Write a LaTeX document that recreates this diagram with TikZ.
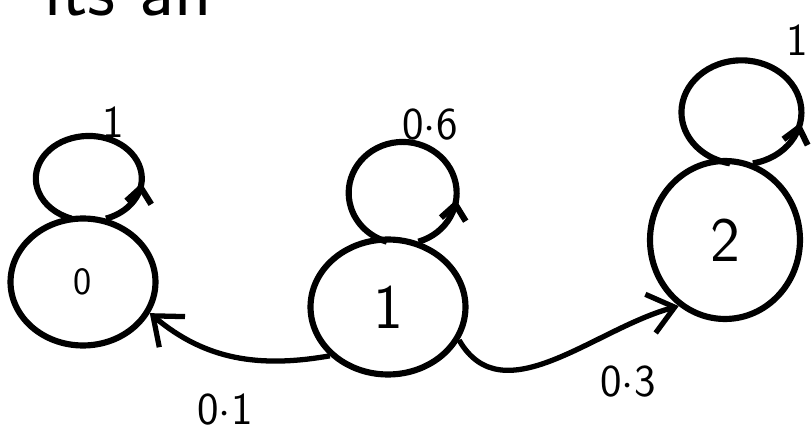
\documentclass[tikz,border=0pt]{standalone}
\usepackage{tikz}
\usetikzlibrary{arrows.meta,shapes.geometric,decorations.markings}
\definecolor{chainInk}{HTML}{000000}
\tikzset{
  every picture/.style={font=\sffamily, text=chainInk},
  chain state/.style={ellipse, draw=chainInk, line width=3.5pt, inner sep=0pt},
  chain name/.style={font=\sffamily\fontsize{36}{40}\selectfont},
  chain prob/.style={font=\sffamily\fontsize{26}{30}\selectfont},
  chain edge/.style={draw=chainInk, line width=3pt,
    -{Straight Barb[length=5mm,width=8mm]}},
  chain loop/.style={draw=chainInk, line width=3.5pt, postaction={decorate},
    decoration={markings,
      mark=at position #1 with {\arrow{Straight Barb[length=3mm,width=5mm]}}}},
  chain loop/.default=0.2
}

\begin{document}
\begin{tikzpicture}[x=0.02cm,y=-0.02cm]
  \useasboundingbox (0,0) rectangle (812,439);
  \node[anchor=base west, font=\sffamily\fontsize{44}{48}\selectfont] (scrap) at (38,16) {its an};

  % states
  \node[chain state, minimum width=2.9cm, minimum height=2.54cm] (s0) at (83,282) {\fontsize{22}{26}\selectfont 0};
  \node[chain state, minimum width=3.1cm, minimum height=2.7cm, chain name] (s1) at (388,307) {1};
  \node[chain state, minimum width=3.0cm, minimum height=3.16cm, chain name] (s2) at (725,240) {2};

  % self loops
  \draw[chain loop] (s0.70) arc[start angle=-71, end angle=251, x radius=1.06cm, y radius=0.85cm];
  \draw[chain loop] (s1.65) arc[start angle=-73, end angle=253, x radius=1.08cm, y radius=1.02cm];
  \draw[chain loop] (s2.70) arc[start angle=-79, end angle=259, x radius=1.2cm, y radius=1.04cm];
  \node[chain prob] (p00) at (113,122) {1};
  \node[chain prob] (p11) at (430,125) {0$\cdot$6};
  \node[chain prob] (p22) at (797,40) {1};

  % transitions
  \draw[chain edge] (s1.220) to[out=190,in=-40] (s0.-25);
  \draw[chain edge] (s1.-25) to[out=-60,in=195] (s2.235);
  \node[chain prob] (p10) at (225,410) {0$\cdot$1};
  \node[chain prob] (p12) at (628,382) {0$\cdot$3};
\end{tikzpicture}
\end{document}
